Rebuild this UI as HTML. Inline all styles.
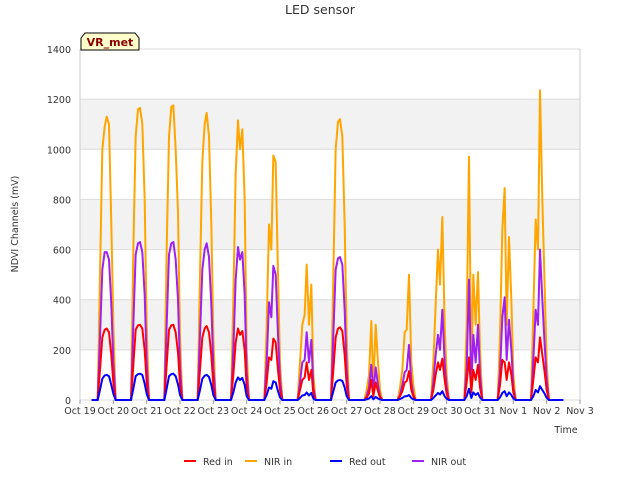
<!DOCTYPE html>
<html><head><meta charset="utf-8"><style>
body{margin:0;background:#fff;font-family:"Liberation Sans",sans-serif;}
svg text{font-family:"DejaVu Sans","Liberation Sans",sans-serif;}
</style></head><body>
<svg id="chart" width="640" height="480">
<text x="320" y="14" text-anchor="middle" font-size="12.5" fill="#333">LED sensor</text>
<g id="bands"></g><g id="grid"></g><g id="series"></g><g id="axes"></g>
<text x="18" y="224" transform="rotate(-90 18 224)" text-anchor="middle" font-size="9.5" fill="#333">NDVI Channels (mV)</text>
<text x="566" y="433" text-anchor="middle" font-size="9.5" fill="#333">Time</text>
<g>
<path d="M81,50 L81,38 L85,33 L135,33 L139,38 L139,50 Z" fill="#ffffcc" stroke="#000" stroke-width="1"/>
<text x="110" y="46" text-anchor="middle" font-size="11" font-weight="bold" fill="#8b0000">VR_met</text>
</g>
<g id="legend"></g>
</svg>
<script>
const seriesNames=["Red in","NIR in","Red out","NIR out"];
const seriesColors=["#ff0000","#ffa500","#0000ff","#a020f0"];
const xTickLabels=["Oct 19","Oct 20","Oct 21","Oct 22","Oct 23","Oct 24","Oct 25","Oct 26","Oct 27","Oct 28","Oct 29","Oct 30","Oct 31","Nov 1","Nov 2","Nov 3"];
const yTicks=[0,200,400,600,800,1000,1200,1400];
const sampleOffsets=[0.53,0.6,0.67,0.74,0.8,0.87,0.94,1.0,1.07];
const nirIn=[
[0,500,1000,1090,1130,1100,700,300,0],[0,600,1050,1160,1165,1100,800,300,0],
[0,600,1050,1170,1175,1000,750,250,0],[0,500,950,1100,1145,1050,700,250,0],
[0,400,900,1115,1000,1080,800,200,0],[0,300,700,600,975,950,500,150,0],
[0,150,300,340,540,300,460,100,0],[0,500,1000,1110,1120,1050,700,250,0],
[0,40,100,315,50,300,150,40,0],[0,50,120,270,280,500,150,60,0],
[0,150,380,600,460,730,300,100,0],[0,300,970,100,500,300,510,200,0],
[0,250,680,845,300,650,400,100,0],[0,350,720,600,1235,800,450,150,0]];
const nirOut=[
[0,250,520,590,590,560,380,150,0],[0,300,580,625,630,590,420,150,0],
[0,300,580,625,630,560,400,130,0],[0,260,520,600,625,570,380,130,0],
[0,200,480,610,560,590,420,110,0],[0,150,390,330,535,500,260,80,0],
[0,70,150,160,270,150,240,50,0],[0,260,520,565,570,540,360,120,0],
[0,15,50,140,30,130,60,15,0],[0,20,60,110,120,220,70,20,0],
[0,70,180,260,200,360,150,50,0],[0,130,480,50,260,150,300,100,0],
[0,110,330,410,160,320,200,50,0],[0,160,360,300,600,400,220,80,0]];
const redIn=[
[0,120,250,280,285,270,180,70,0],[0,140,280,298,300,285,200,70,0],
[0,140,280,298,300,270,190,60,0],[0,120,250,285,295,270,180,60,0],
[0,100,230,285,260,275,200,50,0],[0,70,170,160,245,230,120,40,0],
[0,40,80,90,150,80,120,25,0],[0,120,250,285,290,275,180,60,0],
[0,10,25,80,15,70,35,10,0],[0,15,35,70,75,115,40,15,0],
[0,40,100,150,120,165,80,25,0],[0,70,170,30,120,80,140,50,0],
[0,60,160,150,80,150,100,30,0],[0,80,170,150,250,180,110,40,0]];
const redOut=[
[0,40,85,98,100,95,60,25,0],[0,45,95,103,105,100,65,25,0],
[0,45,95,103,105,95,62,20,0],[0,40,85,97,100,92,60,20,0],
[0,30,70,90,80,88,60,15,0],[0,20,50,45,75,70,35,10,0],
[0,8,18,20,30,18,28,6,0],[0,35,70,78,80,76,50,15,0],
[0,3,6,15,3,12,6,2,0],[0,4,8,15,15,20,8,3,0],
[0,8,18,28,22,35,15,5,0],[0,15,45,8,30,20,28,10,0],
[0,10,28,35,15,30,20,6,0],[0,15,40,30,55,40,25,8,0]];
const allSeries=[redIn,nirIn,redOut,nirOut];
const drawOrder=[1,3,0,2];

const NS="http://www.w3.org/2000/svg";
const X0=80,X1=580,Y0=400,Y1=49,DMAX=15,VMAX=1400;
const xs=d=>X0+d/DMAX*(X1-X0);
const ys=v=>Y0-v/VMAX*(Y0-Y1);
function mk(tag,attrs,parent){const e=document.createElementNS(NS,tag);for(const k in attrs)e.setAttribute(k,attrs[k]);parent.appendChild(e);return e;}
const bands=document.getElementById('bands'),grid=document.getElementById('grid'),axes=document.getElementById('axes'),ser=document.getElementById('series'),leg=document.getElementById('legend');
mk('rect',{x:X0,y:Y1,width:X1-X0,height:Y0-Y1,fill:'#fff'},bands);
for(let i=1;i<yTicks.length-1;i+=2){
 const r=mk('rect',{x:X0,y:ys(yTicks[i+1]),width:X1-X0,height:ys(yTicks[i])-ys(yTicks[i+1]),fill:'#f2f2f2'},bands);
 
 
}
yTicks.forEach(v=>{
 const l=mk('line',{x1:X0,x2:X1,y1:ys(v),y2:ys(v),stroke:'#dcdcdc','stroke-width':1},grid);
 
 
 const t=mk('text',{x:X0-9,y:ys(v)+4,'text-anchor':'end','font-size':9.5,fill:'#333'},axes);
 t.textContent=v;
 
 
});
mk('line',{x1:X0,x2:X0,y1:Y1,y2:Y0,stroke:'#ccc'},axes);
mk('line',{x1:X1,x2:X1,y1:Y1,y2:Y0,stroke:'#ccc'},axes);
xTickLabels.forEach((lab,i)=>{
 mk('line',{x1:xs(i),x2:xs(i),y1:Y0,y2:Y0+4,stroke:'#999'},axes);
 const t=mk('text',{x:xs(i),y:414,'text-anchor':'middle','font-size':9.5,fill:'#333'},axes);
 t.textContent=lab;
 
 
});
drawOrder.forEach(si=>{
 const data=allSeries[si];
 let pts=[[xs(0.35),ys(0)]];
 data.forEach((day,d)=>{day.forEach((v,k)=>pts.push([xs(d+sampleOffsets[k]),ys(v)]));});
 pts.push([xs(14.5),ys(0)]);
 const p=mk('polyline',{points:pts.map(p=>p.join(',')).join(' '),fill:'none',stroke:seriesColors[si],'stroke-width':2,'stroke-linejoin':'round'},ser);
 
 
});
const legX=[184,245,330,412];
seriesNames.forEach((n,i)=>{
 const g=mk('g',{},leg);
 
 
 mk('line',{x1:legX[i],x2:legX[i]+12,y1:461,y2:461,stroke:seriesColors[i],'stroke-width':2},g);
 const t=mk('text',{x:legX[i]+19,y:465,'font-size':9.5,fill:'#333'},g);
 t.textContent=n;
});
</script>
</body></html>
